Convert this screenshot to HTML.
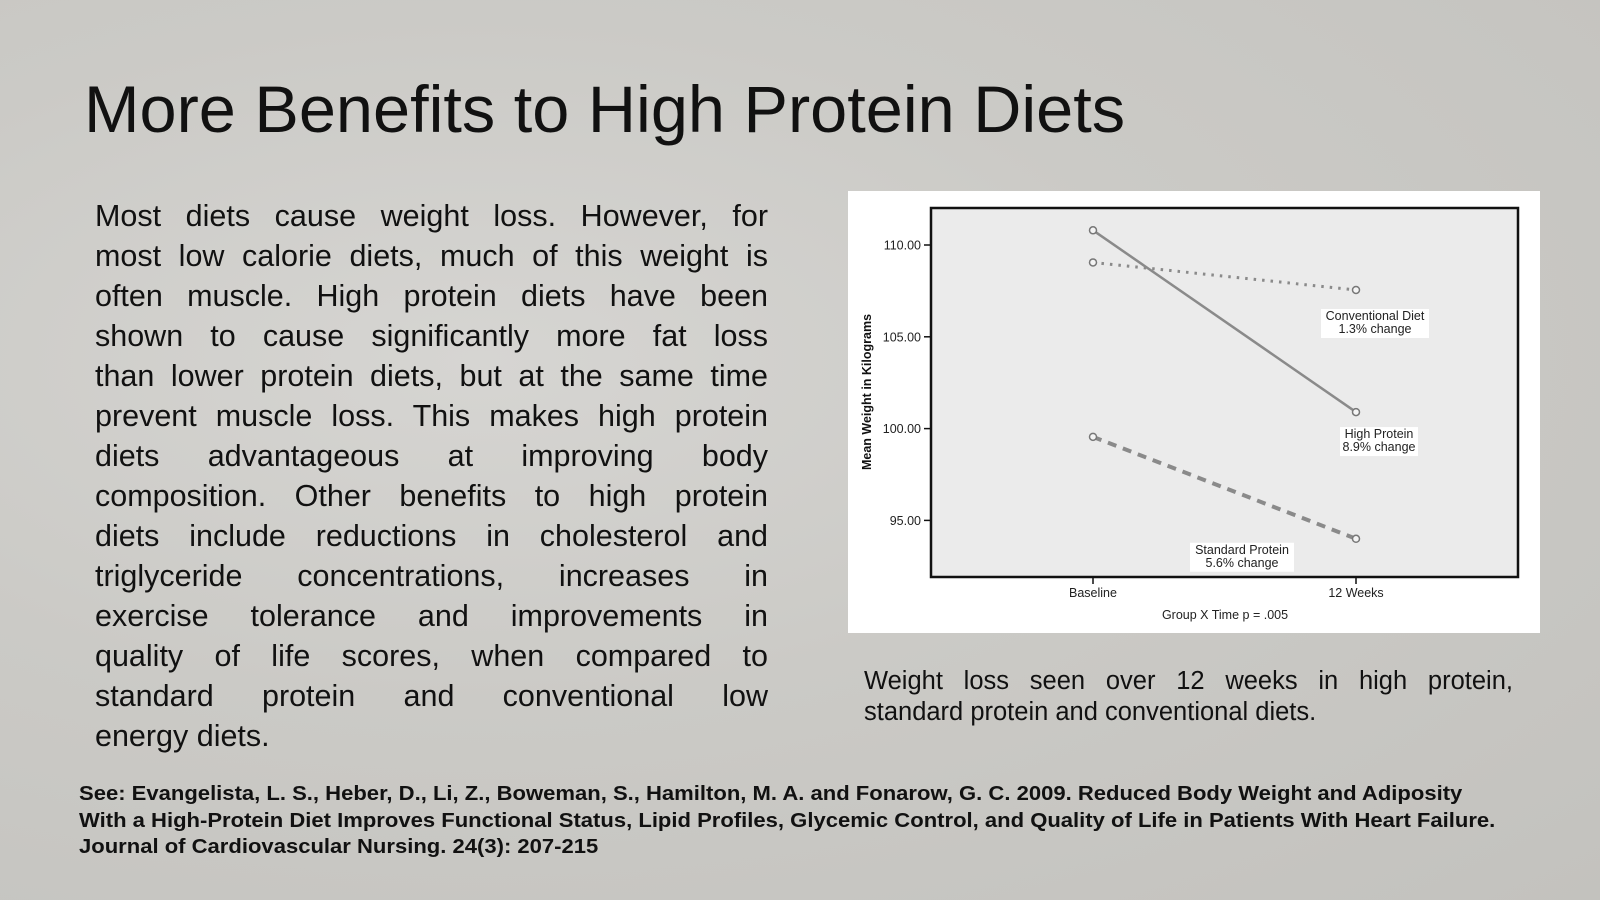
<!DOCTYPE html>
<html><head><meta charset="utf-8">
<style>
html,body{margin:0;padding:0}
body{width:1600px;height:900px;overflow:hidden;position:relative;font-family:"Liberation Sans",sans-serif;
background:radial-gradient(ellipse at 30% 40%,#d6d5d2 0%,#cbcac6 45%,#c3c2be 100%);color:#111}
.abs{position:absolute}
#title{left:84px;top:76px;font-size:66px;line-height:66px;white-space:nowrap;color:#111;transform:scaleX(1.01);transform-origin:left top}
#para{left:95px;top:196px;width:673px;font-size:30.5px;line-height:40px}
#para div{text-align:justify;text-align-last:justify;white-space:nowrap}
#para div.last{text-align-last:left}
#cap{left:864px;top:666px;width:649px;font-size:25.5px;line-height:31px}
#cap div{text-align:justify;text-align-last:justify;white-space:nowrap}
#cap div.last{text-align-last:left}
#cite{left:79px;top:781px;font-size:20.5px;line-height:26.5px;font-weight:bold;white-space:nowrap;transform:scaleX(1.075);transform-origin:left top}
svg{position:absolute;left:0;top:0}
</style></head>
<body>
<div id="title" class="abs">More Benefits to High Protein Diets</div>
<div id="para" class="abs">
<div>Most diets cause weight loss. However, for</div>
<div>most low calorie diets, much of this weight is</div>
<div>often muscle. High protein diets have been</div>
<div>shown to cause significantly more fat loss</div>
<div>than lower protein diets, but at the same time</div>
<div>prevent muscle loss. This makes high protein</div>
<div>diets advantageous at improving body</div>
<div>composition. Other benefits to high protein</div>
<div>diets include reductions in cholesterol and</div>
<div>triglyceride concentrations, increases in</div>
<div>exercise tolerance and improvements in</div>
<div>quality of life scores, when compared to</div>
<div>standard protein and conventional low</div>
<div class="last">energy diets.</div>
</div>
<svg id="chart" width="1600" height="900">
<rect x="848" y="191" width="692" height="442" fill="#ffffff"/>
<rect x="931" y="208" width="587" height="369" fill="#ebebeb" stroke="#111" stroke-width="2.5"/>
<g id="axes"></g><g id="series"></g><g id="labels"></g>
</svg>
<div id="cap" class="abs">
<div>Weight loss seen over 12 weeks in high protein,</div>
<div class="last">standard protein and conventional diets.</div>
</div>
<div id="cite" class="abs">See: Evangelista, L. S., Heber, D., Li, Z., Boweman, S., Hamilton, M. A. and Fonarow, G. C. 2009. Reduced Body Weight and Adiposity<br>With a High-Protein Diet Improves Functional Status, Lipid Profiles, Glycemic Control, and Quality of Life in Patients With Heart Failure.<br>Journal of Cardiovascular Nursing. 24(3): 207-215</div>
<script>
const categories=["Baseline","12 Weeks"];
const highProtein=[110.8,100.9];
const conventional=[109.05,107.55];
const standardProtein=[99.55,94.0];
const yTicks=[110,105,100,95];
const yTickLabels=["110.00","105.00","100.00","95.00"];
const seriesNames=["High Protein","Conventional Diet","Standard Protein"];
const seriesNotes=["8.9% change","1.3% change","5.6% change"];

const NS="http://www.w3.org/2000/svg";
const xPos=[1093,1356];
function x(i){return xPos[0]+(xPos[1]-xPos[0])*i/(categories.length-1);}
function y(v){return 245+(110-v)*18.36;}
function mk(tag,attrs,parent){const e=document.createElementNS(NS,tag);for(const k in attrs)e.setAttribute(k,attrs[k]);parent.appendChild(e);return e;}
const axes=document.getElementById('axes'),ser=document.getElementById('series'),lab=document.getElementById('labels');
yTicks.forEach((t,i)=>{
  const l=mk('line',{x1:924,x2:931,y1:y(t),y2:y(t),stroke:'#111','stroke-width':1.5},axes);
  
  
  const tx=mk('text',{x:921,y:y(t)+4.5,'text-anchor':'end','font-size':12.5,fill:'#222'},axes);
  tx.textContent=yTickLabels[i];
  
  
});
categories.forEach((c,i)=>{
  const l=mk('line',{x1:x(i),x2:x(i),y1:577,y2:584,stroke:'#111','stroke-width':1.5},axes);
  
  
  const tx=mk('text',{x:x(i),y:597,'text-anchor':'middle','font-size':12.5,fill:'#222'},axes);
  tx.textContent=c;
  
  
});
const xt=mk('text',{x:1225,y:619,'text-anchor':'middle','font-size':12.5,fill:'#222'},axes);
xt.textContent="Group X Time p = .005";


const yt=mk('text',{x:0,y:0,'text-anchor':'middle','font-size':12.5,'font-weight':'bold',fill:'#111',transform:'translate(871,392) rotate(-90)'},axes);
yt.textContent="Mean Weight in Kilograms";



const all=[highProtein,conventional,standardProtein];
const dashes=['none','2.5 6','9 7'];
const widths=[2.5,3,4];
const keys=['high-protein','conventional-diet','standard-protein'];
all.forEach((s,k)=>{
  const pts=s.map((v,i)=>x(i)+','+y(v)).join(' ');
  const pl=mk('polyline',{points:pts,fill:'none',stroke:'#8a8a8a','stroke-width':widths[k],'stroke-dasharray':dashes[k]},ser);
  
  
  s.forEach((v,i)=>{
    const c=mk('circle',{cx:x(i),cy:y(v),r:3.5,fill:'#f4f4f4',stroke:'#777','stroke-width':1.5},ser);
    
    
  });
});
const anchors=[1379,1375,1242];
const boxW=[78,108,104];
anchors.forEach((cx,k)=>{
  const ty=y(all[k][1])+(k===0?26:(k===1?30:15));
  const r=mk('rect',{x:cx-boxW[k]/2,y:ty-11,width:boxW[k],height:29,fill:'#fff'},lab);
  
  
  const t1=mk('text',{x:cx,y:ty,'text-anchor':'middle','font-size':12.5,fill:'#222'},lab);
  t1.textContent=seriesNames[k];
  
  
  const t2=mk('text',{x:cx,y:ty+13,'text-anchor':'middle','font-size':12.5,fill:'#222'},lab);
  t2.textContent=seriesNotes[k];
  
  
});
</script>
</body></html>
